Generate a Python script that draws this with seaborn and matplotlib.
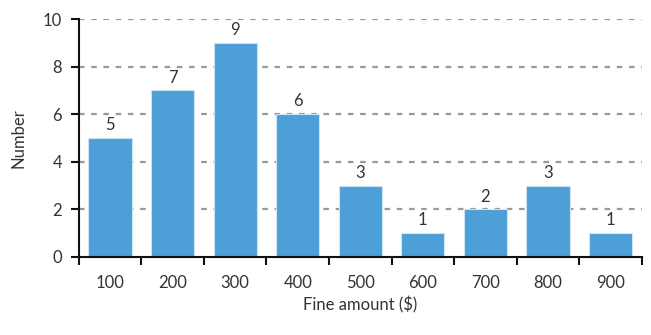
import matplotlib
matplotlib.use("Agg")
import matplotlib.pyplot as plt
import seaborn as sns
import pandas as pd
import numpy as np

fine_amounts = ["100", "200", "300", "400", "500", "600", "700", "800", "900"]
counts = [5, 7, 9, 6, 3, 1, 2, 3, 1]
y_ticks = [0, 2, 4, 6, 8, 10]

df = pd.DataFrame({"fine": fine_amounts, "count": counts})

sns.set_style("white")
plt.rcParams["font.family"] = ["Lato", "DejaVu Sans"]

fig = plt.figure(figsize=(6.51, 3.35), dpi=100)
ax = fig.add_axes([0.121, 0.233, 0.865, 0.71])

ax.set_axisbelow(True)
for v in y_ticks[1:]:
    ax.axhline(v, color="#999999", lw=1.6, ls=(0, (2.5, 3)), zorder=0)

sns.barplot(data=df, x="fine", y="count", color="#4DA0D7", saturation=1,
            width=0.69, edgecolor="#cfe4f3", linewidth=0.8, ax=ax, zorder=2)

for i, c in enumerate(counts):
    ax.text(i, c + 0.2, str(c), ha="center", va="bottom", fontsize=12, color="#333333")

ax.set_xlim(-0.5, len(fine_amounts) - 0.5)
ax.set_ylim(0, 10)
ax.set_yticks(y_ticks)
ax.tick_params(axis="y", length=6, width=1.5, labelsize=12, labelcolor="#333333",
               color="#111111", pad=6, direction="out", left=True)

ax.set_xticks(np.arange(len(fine_amounts) + 1) - 0.5)
ax.set_xticklabels([])
ax.set_xticks(np.arange(len(fine_amounts)), minor=True)
ax.set_xticklabels(fine_amounts, minor=True)
ax.tick_params(axis="x", which="major", length=6, width=1.5, direction="out", bottom=True, color="#111111")
ax.tick_params(axis="x", which="minor", length=0, labelsize=12, labelcolor="#333333", pad=13)

for side in ["top", "right"]:
    ax.spines[side].set_visible(False)
for side in ["left", "bottom"]:
    ax.spines[side].set_color("#111111")
    ax.spines[side].set_linewidth(1.5)

ax.set_xlabel("Fine amount ($)", fontsize=12, color="#333333", labelpad=4)
ax.set_ylabel("Number", fontsize=12, color="#333333", labelpad=12)

fig.savefig("out.png", dpi=100)
